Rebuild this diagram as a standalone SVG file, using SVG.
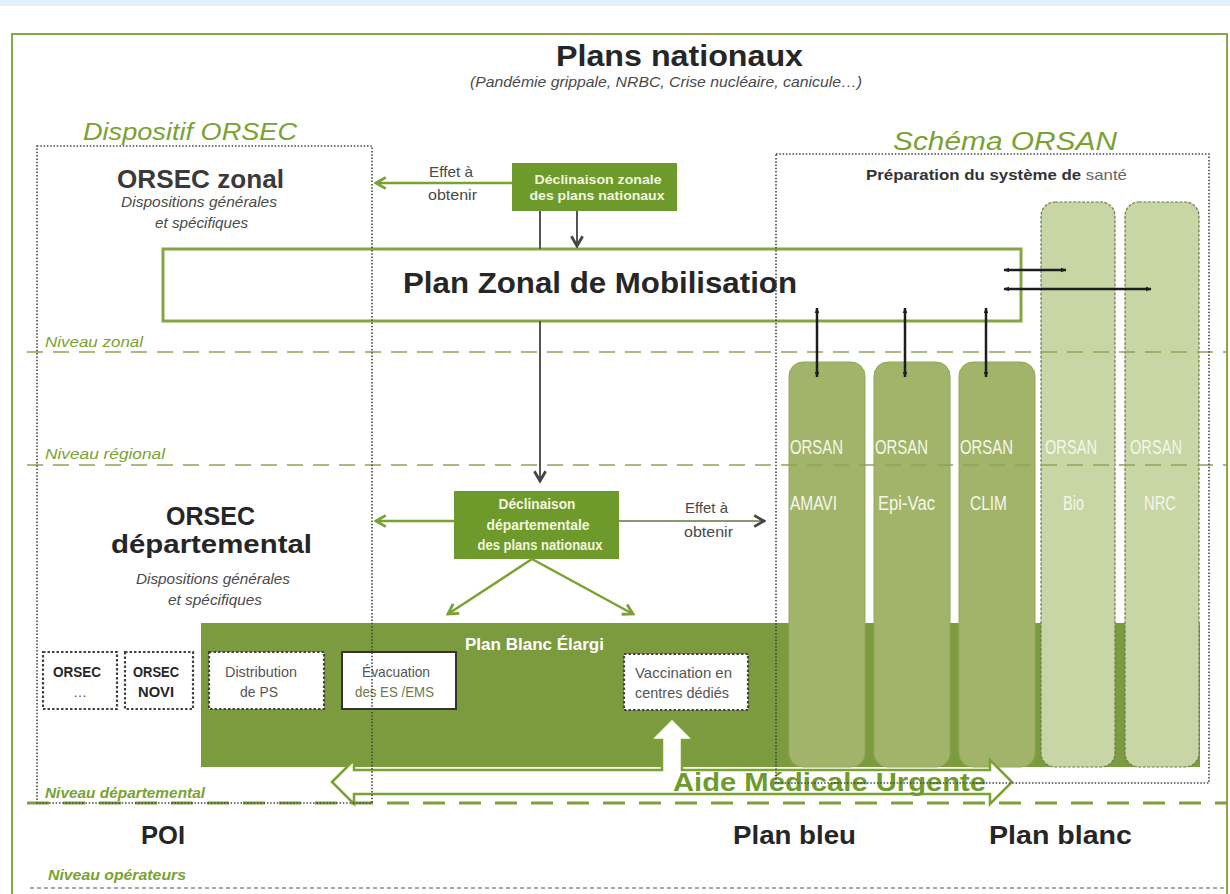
<svg xmlns="http://www.w3.org/2000/svg" width="1230" height="894" viewBox="0 0 1230 894">
<defs>
<style>
text{font-family:"Liberation Sans",Arial,sans-serif}
.it{font-style:italic}
.b{font-weight:bold}
.grn{fill:#7aa232}
.dk{fill:#262626}
.gry{fill:#4a4a4a}
.lvl{fill:none;stroke:#8ea35a;stroke-width:1.6;stroke-dasharray:16 10}
.dot{fill:none;stroke:#444;stroke-width:1.6;stroke-dasharray:1.5 1.8}
.boxd{fill:#fff;stroke:#444;stroke-width:2.2;stroke-dasharray:2.5 2}
.decl{fill:#6e9a2c}
.dtx{fill:#f3f6df;font-weight:bold}
.col{fill:#a2b46a;stroke:#93a75a;stroke-width:1}
.coll{fill:#c8d5a4;stroke:#6e7a55;stroke-width:1.2;stroke-dasharray:3 1.5}
.ctx{fill:#f4f7ea}
.ga{fill:none;stroke:#7aa232;stroke-width:2.5}
.da{fill:none;stroke:#555;stroke-width:2}
.kc{fill:none;stroke:#1e1e1e;stroke-width:2.5}
.btx{fill:#555}
</style>
<marker id="chevG" viewBox="0 0 10 10" refX="8.5" refY="5" markerWidth="14" markerHeight="14" markerUnits="userSpaceOnUse" orient="auto-start-reverse">
<path d="M1.5,1 L8.5,5 L1.5,9" fill="none" stroke="#7aa232" stroke-width="2"/>
</marker>
<marker id="chevD" viewBox="0 0 10 10" refX="8.5" refY="5" markerWidth="14" markerHeight="14" markerUnits="userSpaceOnUse" orient="auto-start-reverse">
<path d="M1.5,1 L8.5,5 L1.5,9" fill="none" stroke="#444" stroke-width="2"/>
</marker>
<marker id="tip" viewBox="0 0 10 10" refX="9" refY="5" markerWidth="6" markerHeight="6" markerUnits="userSpaceOnUse" orient="auto-start-reverse">
<path d="M0,1 L10,5 L0,9 Z" fill="#1e1e1e"/>
</marker>
</defs>

<rect x="0" y="0" width="1230" height="894" fill="#fff"/>
<rect x="0" y="0" width="1230" height="6" fill="#e3f1fa"/>
<rect id="frame" x="12" y="34" width="1215" height="870" fill="none" stroke="#8aa64a" stroke-width="2"/>

<!-- Plan Blanc Elargi -->
<g id="plan-blanc-elargi">
<rect x="201" y="623" width="999" height="144" fill="#7c9b3f"/>
<text x="465" y="650" class="b" font-size="16" fill="#fff" textLength="139" lengthAdjust="spacingAndGlyphs">Plan Blanc Élargi</text>
</g>

<!-- ORSAN columns -->
<g id="orsan-amavi">
<rect x="789" y="362" width="76" height="405" rx="14" class="col"/>
<text x="790" y="454" font-size="20" class="ctx" textLength="53" lengthAdjust="spacingAndGlyphs">ORSAN</text>
<text x="790" y="510" font-size="20" class="ctx" textLength="47" lengthAdjust="spacingAndGlyphs">AMAVI</text>
</g>
<g id="orsan-epivac">
<rect x="874" y="362" width="76" height="405" rx="14" class="col"/>
<text x="875" y="454" font-size="20" class="ctx" textLength="53" lengthAdjust="spacingAndGlyphs">ORSAN</text>
<text x="878" y="510" font-size="20" class="ctx" textLength="57" lengthAdjust="spacingAndGlyphs">Epi-Vac</text>
</g>
<g id="orsan-clim">
<rect x="959" y="362" width="76" height="405" rx="14" class="col"/>
<text x="960" y="454" font-size="20" class="ctx" textLength="53" lengthAdjust="spacingAndGlyphs">ORSAN</text>
<text x="970" y="510" font-size="20" class="ctx" textLength="37" lengthAdjust="spacingAndGlyphs">CLIM</text>
</g>
<g id="orsan-bio">
<rect x="1041" y="202" width="74" height="565" rx="14" class="coll"/>
<text x="1045" y="454" font-size="20" class="ctx" textLength="52" lengthAdjust="spacingAndGlyphs">ORSAN</text>
<text x="1063" y="510" font-size="20" class="ctx" textLength="21" lengthAdjust="spacingAndGlyphs">Bio</text>
</g>
<g id="orsan-nrc">
<rect x="1125" y="202" width="74" height="565" rx="14" class="coll"/>
<text x="1130" y="454" font-size="20" class="ctx" textLength="52" lengthAdjust="spacingAndGlyphs">ORSAN</text>
<text x="1144" y="510" font-size="20" class="ctx" textLength="32" lengthAdjust="spacingAndGlyphs">NRC</text>
</g>

<!-- level lines -->
<g id="levels">
<line x1="27" y1="352" x2="1227" y2="352" class="lvl"/>
<line x1="27" y1="465" x2="1227" y2="465" class="lvl"/>
<line x1="27" y1="803" x2="1227" y2="803" fill="none" stroke="#7fa03a" stroke-width="3" stroke-dasharray="22 14"/>
<line x1="30" y1="888" x2="1227" y2="888" fill="none" stroke="#8a8a8a" stroke-width="1.5" stroke-dasharray="4 3"/>
<text x="45" y="347" font-size="15" class="it grn" textLength="98" lengthAdjust="spacingAndGlyphs">Niveau zonal</text>
<text x="45" y="459" font-size="15" class="it grn" textLength="120" lengthAdjust="spacingAndGlyphs">Niveau régional</text>
<text x="45" y="798" font-size="14" class="it b grn" textLength="160" lengthAdjust="spacingAndGlyphs">Niveau départemental</text>
<text x="48" y="880" font-size="14" class="it b grn" textLength="138" lengthAdjust="spacingAndGlyphs">Niveau opérateurs</text>
</g>

<!-- Plan Zonal de Mobilisation -->
<g id="plan-zonal">
<rect x="163" y="249" width="858" height="72" fill="#fff" stroke="#86a442" stroke-width="3"/>
<text x="403" y="293" font-size="29" class="b dk" textLength="394" lengthAdjust="spacingAndGlyphs">Plan Zonal de Mobilisation</text>
</g>

<!-- Declinaison zonale -->
<g id="declinaison-zonale">
<rect x="512" y="163" width="165" height="48" class="decl"/>
<text x="598" y="184" font-size="13.5" class="dtx" text-anchor="middle" textLength="127" lengthAdjust="spacingAndGlyphs">Déclinaison zonale</text>
<text x="597" y="200" font-size="13.5" class="dtx" text-anchor="middle" textLength="135" lengthAdjust="spacingAndGlyphs">des plans nationaux</text>
</g>

<!-- Declinaison departementale -->
<g id="declinaison-departementale">
<rect x="454" y="491" width="165" height="68" class="decl"/>
<text x="537" y="509" font-size="14" class="dtx" text-anchor="middle" textLength="77" lengthAdjust="spacingAndGlyphs">Déclinaison</text>
<text x="538" y="530" font-size="14" class="dtx" text-anchor="middle" textLength="103" lengthAdjust="spacingAndGlyphs">départementale</text>
<text x="540" y="550" font-size="14" class="dtx" text-anchor="middle" textLength="125" lengthAdjust="spacingAndGlyphs">des plans nationaux</text>
</g>

<!-- small boxes -->
<g id="orsec-etc">
<rect x="43" y="652" width="74" height="57" class="boxd"/>
<text x="53" y="677" font-size="14" class="b dk" textLength="48" lengthAdjust="spacingAndGlyphs">ORSEC</text>
<text x="80" y="697" font-size="14" class="btx" text-anchor="middle">…</text>
</g>
<g id="orsec-novi">
<rect x="125" y="652" width="68" height="57" class="boxd"/>
<text x="133" y="677" font-size="14" class="b dk" textLength="46" lengthAdjust="spacingAndGlyphs">ORSEC</text>
<text x="138" y="697" font-size="14" class="b dk" textLength="36" lengthAdjust="spacingAndGlyphs">NOVI</text>
</g>
<g id="distribution-ps">
<rect x="209" y="652" width="115" height="57" class="boxd"/>
<text x="225" y="677" font-size="15" class="btx" textLength="72" lengthAdjust="spacingAndGlyphs">Distribution</text>
<text x="240" y="697" font-size="15" class="btx" textLength="38" lengthAdjust="spacingAndGlyphs">de PS</text>
</g>
<g id="evacuation">
<rect x="342" y="652" width="114" height="57" fill="#fff" stroke="#333" stroke-width="2"/>
<text x="362" y="677" font-size="15" class="btx" textLength="68" lengthAdjust="spacingAndGlyphs">Évacuation</text>
<text x="355" y="697" font-size="15" fill="#6a7a50" textLength="79" lengthAdjust="spacingAndGlyphs">des ES /EMS</text>
</g>
<g id="vaccination">
<rect x="624" y="654" width="124" height="56" class="boxd"/>
<text x="635" y="678" font-size="15" class="btx" textLength="97" lengthAdjust="spacingAndGlyphs">Vaccination en</text>
<text x="635" y="698" font-size="15" class="btx" textLength="94" lengthAdjust="spacingAndGlyphs">centres dédiés</text>
</g>

<!-- connectors -->
<g id="connectors">
<line x1="512" y1="183" x2="376" y2="183" class="ga" marker-end="url(#chevG)"/>
<line x1="540" y1="211" x2="540" y2="249" class="da"/>
<line x1="577" y1="211" x2="577" y2="246" class="da" marker-end="url(#chevD)"/>
<line x1="540" y1="321" x2="540" y2="481" class="da" marker-end="url(#chevD)"/>
<line x1="454" y1="521" x2="376" y2="521" class="ga" marker-end="url(#chevG)"/>
<line x1="619" y1="521" x2="764" y2="521" fill="none" stroke="#8b9a6e" stroke-width="2" marker-end="url(#chevD)"/>
<line x1="532" y1="559" x2="448" y2="614" class="ga" marker-end="url(#chevG)"/>
<line x1="532" y1="559" x2="633" y2="614" class="ga" marker-end="url(#chevG)"/>
<line x1="1004" y1="270" x2="1066" y2="270" class="kc" marker-start="url(#tip)" marker-end="url(#tip)"/>
<line x1="1004" y1="289" x2="1151" y2="289" class="kc" marker-start="url(#tip)" marker-end="url(#tip)"/>
<line x1="817" y1="308" x2="817" y2="377" class="kc" marker-start="url(#tip)" marker-end="url(#tip)"/>
<line x1="905" y1="308" x2="905" y2="377" class="kc" marker-start="url(#tip)" marker-end="url(#tip)"/>
<line x1="986" y1="308" x2="986" y2="377" class="kc" marker-start="url(#tip)" marker-end="url(#tip)"/>
<text x="429" y="177" font-size="15" class="gry" textLength="44" lengthAdjust="spacingAndGlyphs">Effet à</text>
<text x="428" y="200" font-size="15" class="gry" textLength="49" lengthAdjust="spacingAndGlyphs">obtenir</text>
<text x="685" y="513" font-size="15" class="gry" textLength="43" lengthAdjust="spacingAndGlyphs">Effet à</text>
<text x="684" y="537" font-size="15" class="gry" textLength="49" lengthAdjust="spacingAndGlyphs">obtenir</text>
</g>

<!-- Aide Medicale Urgente arrow -->
<g id="aide-medicale-urgente">
<path d="M332,782 L354,760 L354,770 L662,770 L662,740 L650,740 L672,718 L694,740 L682,740 L682,770 L990,770 L990,760 L1012,782 L990,804 L990,794 L354,794 L354,804 Z" fill="#fff" stroke="#7aa232" stroke-width="2.5" stroke-linejoin="miter"/>
<text x="673" y="791" font-size="25" class="b" fill="#6e9b2b" textLength="313" lengthAdjust="spacingAndGlyphs">Aide Médicale Urgente</text>
</g>

<!-- dotted enclosures -->
<g id="dispositif-orsec">
<rect x="37" y="146" width="335" height="657" class="dot"/>
<text x="83" y="140" font-size="24" class="it grn" textLength="214" lengthAdjust="spacingAndGlyphs">Dispositif ORSEC</text>
</g>
<g id="schema-orsan">
<rect x="776" y="154" width="433" height="629" class="dot"/>
<text x="893" y="150" font-size="25" class="it grn" textLength="224" lengthAdjust="spacingAndGlyphs">Schéma ORSAN</text>
<text x="866" y="180" font-size="15" class="b" fill="#333" textLength="261" lengthAdjust="spacingAndGlyphs">Préparation du système de <tspan font-weight="normal" fill="#666">santé</tspan></text>
</g>

<!-- titles -->
<g id="plans-nationaux">
<text x="556" y="66" font-size="29" class="b dk" textLength="247" lengthAdjust="spacingAndGlyphs">Plans nationaux</text>
<text x="470" y="87" font-size="14.5" class="it gry" textLength="392" lengthAdjust="spacingAndGlyphs">(Pandémie grippale, NRBC, Crise nucléaire, canicule…)</text>
</g>
<g id="orsec-zonal">
<text x="117" y="188" font-size="25" class="b" fill="#3a3a3a" textLength="167" lengthAdjust="spacingAndGlyphs">ORSEC zonal</text>
<text x="121" y="207" font-size="14" class="it gry" textLength="156" lengthAdjust="spacingAndGlyphs">Dispositions générales</text>
<text x="155" y="228" font-size="14" class="it gry" textLength="93" lengthAdjust="spacingAndGlyphs">et spécifiques</text>
</g>
<g id="orsec-departemental">
<text x="166" y="525" font-size="25" class="b dk" textLength="89" lengthAdjust="spacingAndGlyphs">ORSEC</text>
<text x="111" y="553" font-size="25" class="b dk" textLength="201" lengthAdjust="spacingAndGlyphs">départemental</text>
<text x="136" y="584" font-size="14" class="it gry" textLength="154" lengthAdjust="spacingAndGlyphs">Dispositions générales</text>
<text x="168" y="605" font-size="14" class="it gry" textLength="94" lengthAdjust="spacingAndGlyphs">et spécifiques</text>
</g>
<g id="operateurs">
<text x="141" y="844" font-size="25" class="b dk" textLength="44" lengthAdjust="spacingAndGlyphs">POI</text>
<text x="733" y="844" font-size="25" class="b dk" textLength="123" lengthAdjust="spacingAndGlyphs">Plan bleu</text>
<text x="989" y="844" font-size="25" class="b dk" textLength="143" lengthAdjust="spacingAndGlyphs">Plan blanc</text>
</g>
</svg>
